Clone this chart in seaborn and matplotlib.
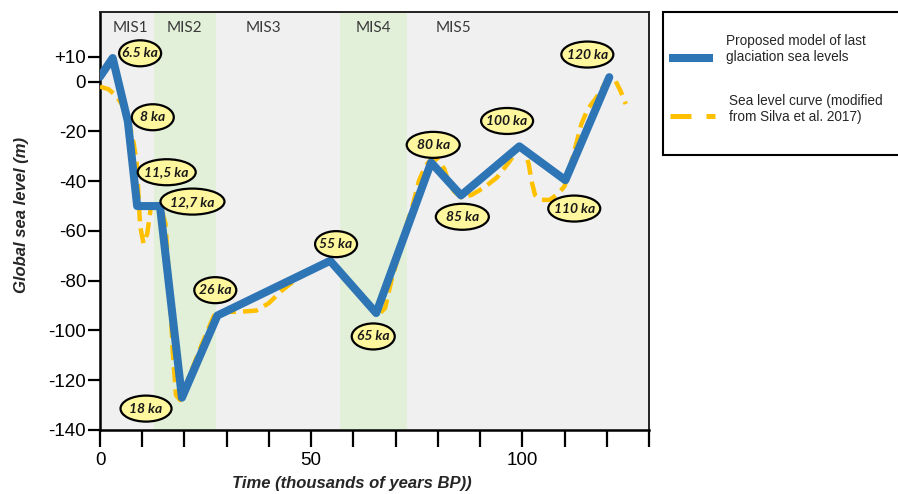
import matplotlib
matplotlib.use("Agg")
import matplotlib.pyplot as plt
import seaborn as sns
import pandas as pd
from matplotlib.patches import Ellipse, Rectangle
from matplotlib.lines import Line2D

# ---------------- data ----------------
model_age = [0, 3, 6.6, 8.8, 14.2, 19.4, 27.8, 54.5, 65.4, 78.4, 85.5, 99.3, 110.2, 120.6]
model_level = [2, 9.5, -16, -50, -50, -127, -94, -72, -93, -32.5, -45.7, -26, -39.6, 1.8]

silva_age = [0, 2, 4, 5.5, 7, 8, 8.7, 9.1, 9.5, 10.3, 11.2, 12, 13, 14.5, 15.5, 16.4, 17.2, 18,
             19, 21, 24, 27, 29, 33, 37, 40, 43, 46, 50, 54.5, 60, 64, 66, 67.5, 69, 71, 72.5,
             74, 75.5, 77, 78.5, 80, 81.5, 82.5, 83.8, 85.5, 88, 91, 94, 97, 99.3, 100.5, 101.5,
             102.2, 103, 104.5, 106.5, 108.5, 110, 112, 114, 115.5, 117.5, 119.5, 120.8, 122,
             123.2, 124.5]
silva_level = [-2, -3, -6, -10, -17, -25, -33, -45, -58, -65, -61, -51, -50, -51, -57, -80, -108,
               -126, -128, -119, -106, -94, -92.5, -92.5, -92, -89, -84, -80, -76, -72, -82, -90,
               -93.5, -91, -80, -68, -58, -50, -40, -34, -31, -31.5, -35, -40, -44, -46.5, -45.5,
               -42.5, -38.5, -32, -26, -28, -33, -40, -45.5, -47.5, -47.5, -45, -42, -30, -17,
               -11, -6.5, -1, 2, 0.5, -3.5, -9]

label_text = ["6.5 ka", "8 ka", "11,5 ka", "12,7 ka", "18 ka", "26 ka", "55 ka", "65 ka",
              "80 ka", "85 ka", "100 ka", "110 ka", "120 ka"]
label_age = [9.5, 12.5, 15.8, 21.9, 10.9, 27.3, 55.9, 64.7, 78.9, 85.8, 96.4, 112.3, 115.4]
label_level = [11.4, -14.3, -36.4, -48.2, -131.4, -83.8, -65.3, -102.4, -25.4, -54.3, -15.8, -51, 10.9]

mis_names = ["MIS1", "MIS2", "MIS3", "MIS4", "MIS5"]
mis_center = [7.1, 20, 38.6, 64.7, 83.7]
glacial_start = [12.8, 56.9]
glacial_end = [27.5, 72.7]

x_ticks = list(range(0, 131, 10))
x_tick_labels = ["0", "", "", "", "", "50", "", "", "", "", "100", "", "", ""]
y_ticks = [10, 0, -20, -40, -60, -80, -100, -120, -140]
y_tick_labels = ["+10", "0", "-20", "-40", "-60", "-80", "-100", "-120", "-140"]

legend_labels = ["Proposed model of last\nglaciation sea levels",
                 "Sea level curve (modified\nfrom Silva et al. 2017)"]

# ---------------- style ----------------
sns.set_style("white")
plt.rcParams["font.family"] = ["Liberation Sans", "DejaVu Sans"]

BLUE = "#2e75b6"
ORANGE = "#ffc000"
GRAY_BG = "#f0f0f0"
GREEN = "#e2efd9"
YELLOW = "#fff79e"

W, H = 898, 494
fig = plt.figure(figsize=(W / 100, H / 100), dpi=100)
ax_l, ax_r, ax_t, ax_b = 100, 649, 12, 430
ax = fig.add_axes([ax_l / W, (H - ax_b) / H, (ax_r - ax_l) / W, (ax_b - ax_t) / H])

xmin, xmax, ymin, ymax = 0, 130, -140, 28
ax.set_xlim(xmin, xmax)
ax.set_ylim(ymin, ymax)
ax.set_facecolor(GRAY_BG)

for s, e in zip(glacial_start, glacial_end):
    ax.axvspan(s, e, color=GREEN, zorder=0, lw=0)

df_model = pd.DataFrame({"age": model_age, "level": model_level})
df_silva = pd.DataFrame({"age": silva_age, "level": silva_level})

sns.lineplot(data=df_silva, x="age", y="level", ax=ax, color=ORANGE, lw=3.2,
             linestyle=(0, (3.4, 1.6)), estimator=None, sort=False, zorder=3)
sns.lineplot(data=df_model, x="age", y="level", ax=ax, color=BLUE, lw=5.8,
             estimator=None, sort=False, zorder=4, solid_joinstyle="round")

# MIS labels
for name, c in zip(mis_names, mis_center):
    ax.text(c, 21.5, name, ha="center", va="center", fontsize=11, color="#3a3a3a",
            family=["Lato", "DejaVu Sans"], zorder=5)

# ellipse labels
label_w_px = [42, 42, 58, 64, 51, 42, 42, 43, 53, 53, 52, 52, 52]
sx = (xmax - xmin) / (ax_r - ax_l)
sy = (ymax - ymin) / (ax_b - ax_t)
for t, a, lv, wpx in zip(label_text, label_age, label_level, label_w_px):
    ax.add_patch(Ellipse((a, lv), wpx * sx, 26 * sy, fc=YELLOW, ec="black", lw=1.6, zorder=6))
    ax.text(a, lv, t, ha="center", va="center", fontsize=10, fontweight="bold",
            fontstyle="italic", color="#1a1a1a", family=["Lato", "DejaVu Sans"], zorder=7)

# axes styling
ax.set_xticks(x_ticks)
ax.set_xticklabels(x_tick_labels)
ax.set_yticks(y_ticks)
ax.set_yticklabels(y_tick_labels)
ax.tick_params(axis="x", direction="out", length=12, width=1.6, labelsize=13.5, pad=4,
               bottom=True, colors="black")
ax.tick_params(axis="y", direction="out", length=9, width=1.6, labelsize=13.5, pad=1,
               left=True, colors="black")
for sp in ["left", "bottom"]:
    ax.spines[sp].set_linewidth(1.8)
    ax.spines[sp].set_color("black")
for sp in ["top", "right"]:
    ax.spines[sp].set_linewidth(1.4)
    ax.spines[sp].set_color("#222222")

ax.set_xlabel("Time (thousands of years BP))", fontsize=12, fontweight="bold", fontstyle="italic")
ax.xaxis.set_label_coords((352 - ax_l) / (ax_r - ax_l), (ax_b - 476) / (ax_b - ax_t))
ax.set_ylabel("Global sea level (m)", fontsize=12, fontweight="bold", fontstyle="italic")
ax.yaxis.set_label_coords((29 - ax_l) / (ax_r - ax_l), (ax_b - 215) / (ax_b - ax_t))

# legend box (manual)
lx0, ly0, lx1, ly1 = 663, 12, 910, 155
fig.add_artist(Rectangle((lx0 / W, (H - ly1) / H), (lx1 - lx0) / W, (ly1 - ly0) / H,
                         transform=fig.transFigure, fc="white", ec="black", lw=1.5))
fig.add_artist(Line2D([669 / W, 713 / W], [(H - 58) / H] * 2, transform=fig.transFigure,
                      color=BLUE, lw=5.8, solid_capstyle="butt"))
fig.add_artist(Line2D([670 / W, 715 / W], [(H - 116) / H] * 2, transform=fig.transFigure,
                      color=ORANGE, lw=3.6, linestyle=(0, (4.2, 3.0)), dash_capstyle="butt"))
fig.text(726 / W, (H - 49) / H, legend_labels[0], ha="left", va="center", fontsize=9.8,
         color="#262626", linespacing=1.25)
fig.text(729 / W, (H - 109) / H, legend_labels[1], ha="left", va="center", fontsize=9.8,
         color="#262626", linespacing=1.25)

fig.savefig("out.png", dpi=100)
